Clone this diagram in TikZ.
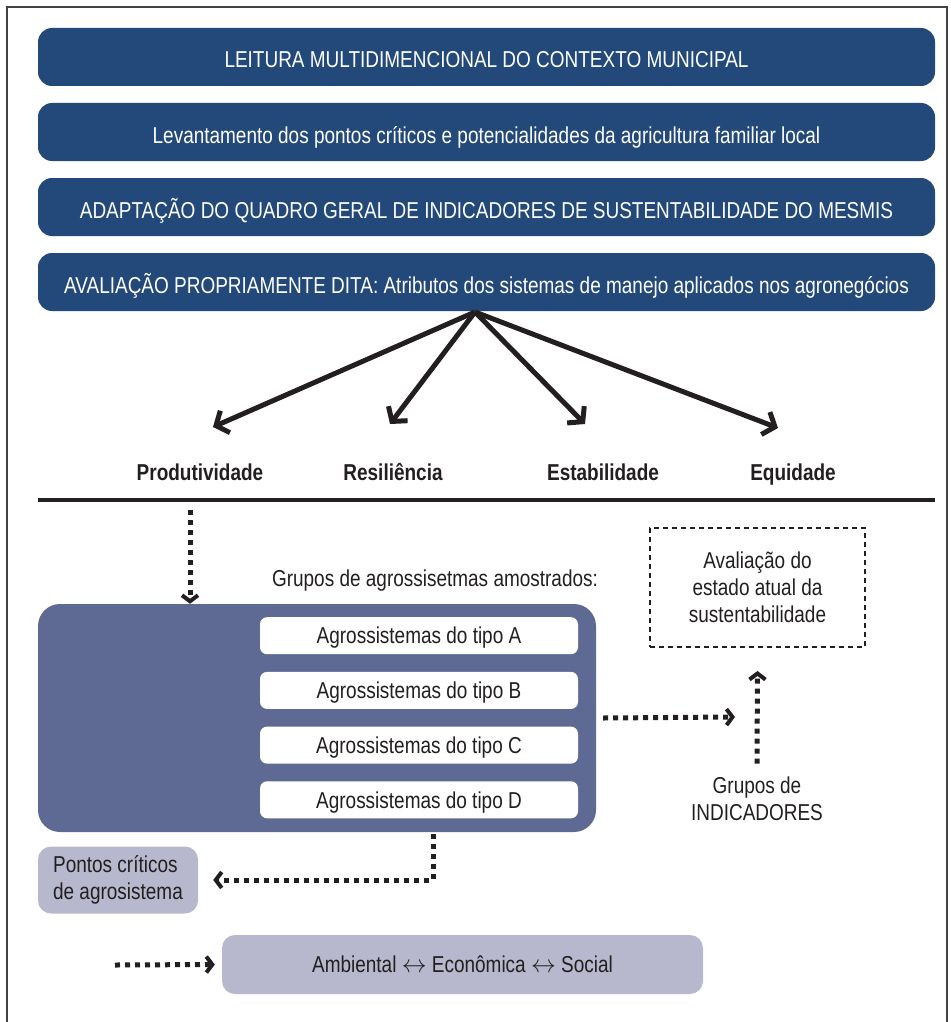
\documentclass[tikz,border=0pt]{standalone}
\usepackage{fontspec}
\setmainfont{Liberation Sans}[FakeStretch=0.825]
\usetikzlibrary{arrows.meta}

\definecolor{navy}{RGB}{34,73,122}
\definecolor{slate}{RGB}{94,106,148}
\definecolor{lilac}{RGB}{183,184,206}
\definecolor{ink}{RGB}{35,31,32}

\tikzset{
  txt/.style={font=\fontsize{23}{27}\selectfont, text=ink},
  band/.style={txt, fill=navy, rounded corners=14pt, minimum width=897pt,
    minimum height=58pt, inner sep=0pt, text=white, text height=22pt, text depth=0pt},
  tipo/.style={txt, fill=white, rounded corners=7pt, minimum width=318pt,
    minimum height=37pt, inner sep=0pt, text height=18.5pt, text depth=2pt},
  soft/.style={txt, fill=lilac, rounded corners=13pt, inner sep=0pt},
  attr/.style={txt, font=\fontsize{23}{27}\selectfont\bfseries,
    text height=21pt, text depth=5pt},
  bigarrow/.style={line width=5pt, ink, -{Straight Barb[length=10pt,width=24pt,line width=5pt]}},
  dots/.style={line width=5pt, ink, dash pattern=on 5pt off 5pt,
    -{Straight Barb[length=6pt,width=16pt,line width=4pt]}}
}

\begin{document}
\begin{tikzpicture}[x=1pt,y=-1pt]
  \useasboundingbox (0,0) rectangle (950,1022);
  % frame
  \draw[line width=2pt, ink!85] (7,1022) |- (947,7) -- (947,1022);

  % top bands
  \node[band] (lect) at (486.5,57) {LEITURA MULTIDIMENCIONAL DO CONTEXTO MUNICIPAL};
  \node[band] (levant) at (486.5,132) {Levantamento dos pontos críticos e potencialidades da agricultura familiar local};
  \node[band] (adapt) at (486.5,207) {ADAPTAÇÃO DO QUADRO GERAL DE INDICADORES DE SUSTENTABILIDADE DO MESMIS};
  \node[band] (aval) at (486.5,282) {AVALIAÇÃO PROPRIAMENTE DITA: Atributos dos sistemas de manejo aplicados nos agronegócios};

  % attributes
  \coordinate (hub) at (475,312);
  \node[attr] (prod) at (200,472) {Produtividade};
  \node[attr] (resil) at (393,472) {Resiliência};
  \node[attr] (estab) at (603,472) {Estabilidade};
  \node[attr] (equid) at (793,472) {Equidade};
  \coordinate (prodtip) at (213,427);
  \coordinate (resiltip) at (390,424);
  \coordinate (estabtip) at (585,424);
  \coordinate (equidtip) at (778,428);
  \foreach \n in {prod,resil,estab,equid}
    \draw[bigarrow] (hub) -- (\n tip);

  \draw[line width=4pt, ink] (38,500) -- (935,500);

  % sampled agroecosystems
  \node[txt] (grupos) at (435,581) {Grupos de agrossisetmas amostrados:};
  \node[fill=slate, rounded corners=22pt, minimum width=558pt, minimum height=228pt,
    inner sep=0pt] (amostra) at (317,718) {};
  \foreach \t [count=\i] in {A,B,C,D}
    \node[tipo] (tipo\t) at (419,581+54.7*\i) {Agrossistemas do tipo \t};

  \node[txt, draw=ink, line width=2pt, dash pattern=on 5pt off 4pt, align=center,
    minimum width=215pt, minimum height=119pt, inner sep=0pt] (estado) at (757.5,587.5)
    {Avaliação do\\estado atual da\\sustentabilidade};
  \node[txt, align=center] (indic) at (757,799) {Grupos de\\INDICADORES};

  \node[soft, align=left, minimum width=160pt, minimum height=67pt] (pontos) at (118,880)
    {Pontos críticos\\de agrosistema};
  \node[soft, minimum width=481pt, minimum height=59pt] (dims) at (462.5,964.5)
    {Ambiental $\leftrightarrow$ Econômica $\leftrightarrow$ Social\hspace{10pt}};

  % dotted connectors
  \coordinate (sepA) at (190,510);
  \draw[dots] (sepA) -- (sepA |- amostra.north);
  \coordinate (indtip) at (735,717);
  \draw[dots] ([xshift=7pt]amostra.east) -- (indtip);
  \draw[dots] ([yshift=10pt]indic.north) -- ([yshift=-23pt]estado.south);
  \coordinate (drop) at (433,834);
  \draw[dots] (drop) |- ([xshift=15pt]pontos.east);
  \coordinate (legend) at (115,965);
  \draw[dots] (legend) -- ([xshift=-7pt]dims.west);
\end{tikzpicture}
\end{document}
